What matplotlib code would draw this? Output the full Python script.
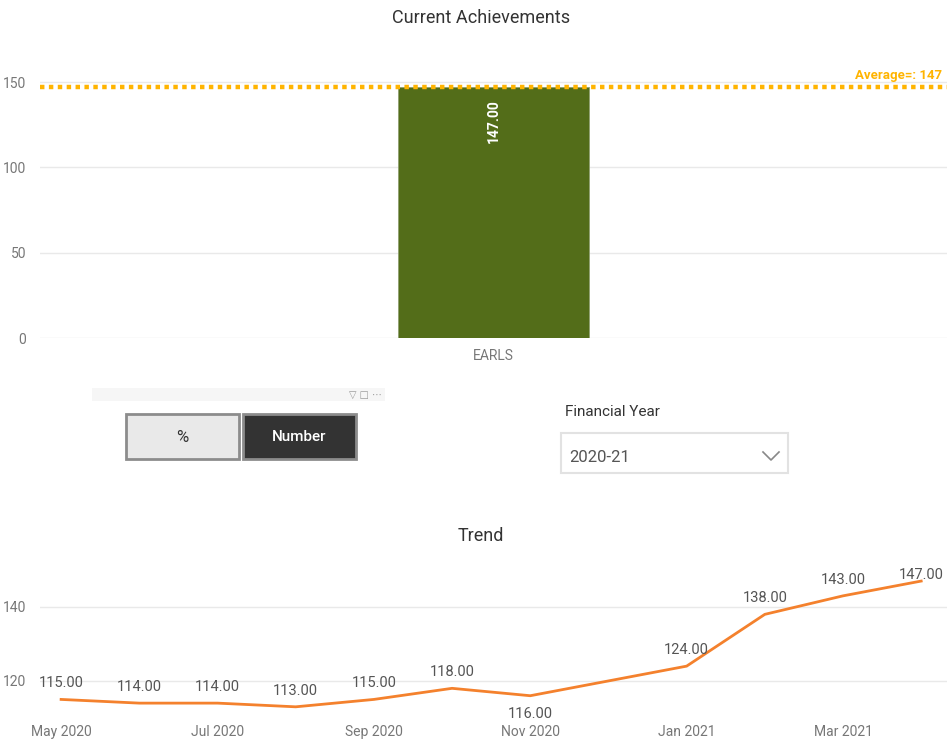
import matplotlib.pyplot as plt
from matplotlib.patches import Rectangle

plt.rcParams['font.family'] = ['Roboto', 'DejaVu Sans']

# bar chart data
categories = ['EARLS']
achievements = [147]
average_value = 147

# trend data
months = ['May 2020', 'Jun 2020', 'Jul 2020', 'Aug 2020', 'Sep 2020', 'Oct 2020',
          'Nov 2020', 'Dec 2020', 'Jan 2021', 'Feb 2021', 'Mar 2021', 'Apr 2021']
trend = [115, 114, 114, 113, 115, 118, 116, 120, 124, 138, 143, 147]
show_label = [True, True, True, True, True, True, True, False, True, True, True, True]
label_below = [False, False, False, False, False, False, True, False, False, False, False, False]

W, H = 947, 744
fig = plt.figure(figsize=(W / 100, H / 100), dpi=100)

def px_axes(left, top, right, bottom):
    return fig.add_axes([left / W, 1 - bottom / H, (right - left) / W, (bottom - top) / H])

grid_c = '#E9E9E9'
tick_c = '#777777'

# ---- Current Achievements ----
ax1 = px_axes(40, 65, 947, 338)
ax1.bar(categories, achievements, width=0.21, color='#536D19', edgecolor='#8FA070', linewidth=0.6, zorder=2)
ax1.axhline(average_value, color='#FFB400', linewidth=3.2, linestyle=(0, (1, 1)), zorder=3)
ax1.set_xlim(-0.5, 0.5)
ax1.set_ylim(0, 160)
ax1.set_yticks([0, 50, 100, 150])
ax1.grid(axis='y', color=grid_c, linewidth=1)
ax1.set_axisbelow(True)
for s in ax1.spines.values():
    s.set_visible(False)
ax1.tick_params(length=0, colors=tick_c, labelsize=10, pad=10)
ax1.tick_params(axis='x', pad=8)
for i, v in enumerate(achievements):
    ax1.text(i, v - 7, '{:.2f}'.format(v), rotation=90, ha='center', va='top',
             color='white', fontsize=10, fontweight='bold')
ax1.text(0.995, average_value + 7, 'Average=: {}'.format(average_value), transform=ax1.get_yaxis_transform(),
         ha='right', va='center', color='#FFB400', fontsize=9.5, fontweight='bold')
fig.text(481 / W, 1 - 18 / H, 'Current Achievements', ha='center', va='center', fontsize=13, color='#333333')

# ---- slicer widgets ----
ov = fig.add_axes([0, 0, 1, 1])
ov.set_xlim(0, W)
ov.set_ylim(H, 0)
ov.axis('off')
ov.add_patch(Rectangle((92, 388), 293, 13, facecolor='#F6F6F6', edgecolor='none'))
ov.text(382, 395, '▽ □ ⋯', ha='right', va='center', fontsize=7, color='#999999', family='DejaVu Sans')
ov.add_patch(Rectangle((126, 414), 113, 45, facecolor='#E9E9E9', edgecolor='#8C8C8C', linewidth=2))
ov.text(182.5, 437, '%', ha='center', va='center', fontsize=12, color='#333333')
ov.add_patch(Rectangle((243, 414), 113, 45, facecolor='#333333', edgecolor='#8C8C8C', linewidth=2))
ov.text(299.5, 437, 'Number', ha='center', va='center', fontsize=11, color='white', fontweight='medium')
ov.text(565, 412, 'Financial Year', ha='left', va='center', fontsize=11, color='#333333')
ov.add_patch(Rectangle((561, 433), 227, 40, facecolor='white', edgecolor='#E2E2E2', linewidth=1.5))
ov.text(569, 458, '2020-21', ha='left', va='center', fontsize=12, color='#555555')
ov.plot([763, 771, 779], [452, 460, 452], color='#888888', linewidth=1.2)

# ---- Trend ----
ax2 = px_axes(40, 567, 947, 712)
x = list(range(len(months)))
ax2.plot(x, trend, color='#F4812D', linewidth=2, solid_joinstyle='round', zorder=3)
ax2.set_xlim(-0.27, 11.33)
ax2.set_ylim(111.6, 150.8)
ax2.set_yticks([120, 140])
ax2.set_xticks(x[::2])
ax2.set_xticklabels(months[::2])
ax2.grid(axis='y', color=grid_c, linewidth=1)
ax2.set_axisbelow(True)
for s in ax2.spines.values():
    s.set_visible(False)
ax2.tick_params(length=0, colors=tick_c, labelsize=10, pad=10)
ax2.tick_params(axis='x', pad=17)
for lab in ax2.get_xticklabels():
    lab.set_verticalalignment('baseline')
fig.canvas.draw()
top_px = ax2.transAxes.transform((0, 1))[1]
for i, v in enumerate(trend):
    if not show_label[i]:
        continue
    pt = ax2.transData.transform((i, v))[1]
    # keep labels from running past the top of the plot area
    dy = -18 if label_below[i] else min(16, top_px - 8 - pt)
    ax2.annotate('{:.2f}'.format(v), (i, v), xytext=(0, dy), textcoords='offset pixels',
                 ha='center', va='center', fontsize=10.5, color='#555555', annotation_clip=False)
fig.text(481 / W, 1 - 536 / H, 'Trend', ha='center', va='center', fontsize=13, color='#333333')

fig.savefig('out.png', dpi=100, facecolor='white')
